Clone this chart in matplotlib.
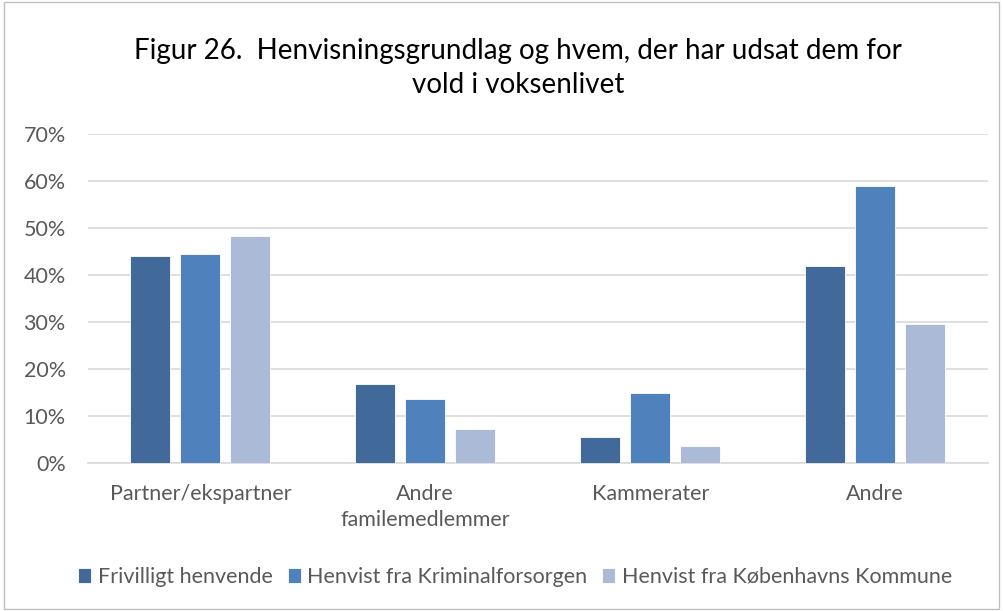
import numpy as np
import matplotlib.pyplot as plt
from matplotlib.patches import Rectangle
from matplotlib.ticker import PercentFormatter

plt.rcParams['font.family'] = ['Lato', 'DejaVu Sans']

# DATA
kategorier = ['Partner/ekspartner', 'Andre\nfamilemedlemmer', 'Kammerater', 'Andre']
frivilligt = [44.0, 16.8, 5.5, 42.0]
kriminalforsorgen = [44.5, 13.6, 15.0, 59.0]
kommune = [48.2, 7.2, 3.6, 29.6]
serier = ['Frivilligt henvende', 'Henvist fra Kriminalforsorgen', 'Henvist fra Københavns Kommune']
farver = ['#41699A', '#4F81BD', '#ABBAD6']

fig = plt.figure(figsize=(10.04, 6.11), dpi=100)
ax = fig.add_axes([0.0876, 0.2422, 0.896, 0.5385])

x = np.arange(len(kategorier))
w = 0.178
step = 0.222
for i, (vals, navn, c) in enumerate(zip([frivilligt, kriminalforsorgen, kommune], serier, farver)):
    ax.bar(x + (i - 1) * step, vals, width=w, color=c, edgecolor='white', linewidth=0.6, label=navn, zorder=3)

ax.set_xlim(-0.5, len(kategorier) - 0.5)
ax.set_ylim(0, 70)
ax.set_yticks(np.arange(0, 71, 10))
ax.yaxis.set_major_formatter(PercentFormatter(decimals=0))
ax.set_xticks(x)
ax.set_xticklabels(kategorier, linespacing=1.4)
ax.tick_params(axis='both', length=0, labelsize=15.5, colors='#595959')
ax.tick_params(axis='x', pad=15)
ax.tick_params(axis='y', pad=16)
ax.grid(axis='y', color='#D9D9D9', linewidth=1.2, zorder=0)
for s in ['top', 'right', 'left']:
    ax.spines[s].set_visible(False)
ax.spines['bottom'].set_color('#D9D9D9')
ax.spines['bottom'].set_linewidth(1.2)

fig.text(0.516, 0.888, 'Figur 26.  Henvisningsgrundlag og hvem, der har udsat dem for\nvold i voksenlivet',
         ha='center', va='center', fontsize=20, color='#000000', linespacing=1.38)

fig.legend(loc='center', bbox_to_anchor=(0.513, 0.056), ncol=3, frameon=False,
           fontsize=15.5, handlelength=0.6, handleheight=0.7, handletextpad=0.3,
           columnspacing=0.7, labelcolor='#595959')

fig.patches.append(Rectangle((0.004, 0.004), 0.991, 0.992, transform=fig.transFigure,
                             fill=False, edgecolor='#BFBFBF', linewidth=1))

fig.savefig('out.png', dpi=100)
